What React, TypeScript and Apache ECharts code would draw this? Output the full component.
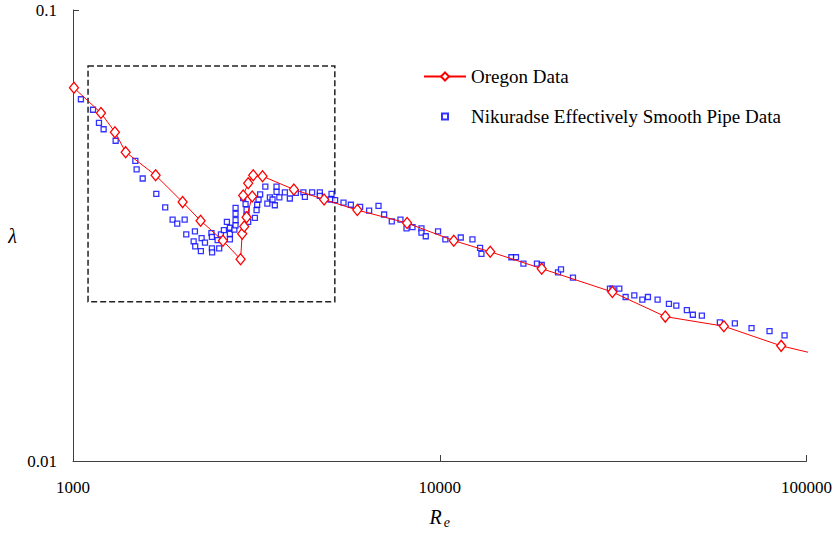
import React, { useEffect, useRef } from "react";
import * as echarts from "echarts";

// Oregon data (Reynolds number, friction factor), in drawing order
const oregonRe = [1006, 1192, 1301, 1392, 1680, 1990, 2228, 2563, 2864, 2893, 2930, 2974, 3081, 2911, 3004, 3100, 3287, 4001, 4838, 5960, 8146, 10920, 13730, 18970, 29560, 41210, 59530, 85310];
const oregonLambda = [0.0672, 0.0591, 0.0536, 0.0484, 0.0430, 0.0375, 0.0341, 0.0308, 0.0280, 0.0319, 0.0331, 0.0347, 0.0386, 0.0388, 0.0413, 0.0430, 0.0428, 0.0400, 0.0380, 0.0360, 0.0337, 0.0308, 0.0291, 0.0267, 0.0237, 0.0209, 0.0199, 0.0180];
// ends of the fitted red curve (no markers)
const curveStart = [969, 0.0703];
const curveEnd = [105100, 0.01729];

// Nikuradse effectively smooth pipe data
const nikRe = [1051, 1134, 1177, 1212, 1307, 1479, 1491, 1549, 1687, 1784, 1869, 1924, 2016, 2036, 2150, 2133, 2242, 2154, 2232, 2290, 2385, 2392, 2392, 2395, 2479, 2504, 2531, 2579, 2628, 2678, 2678, 2678, 2754, 2775, 2775, 2775, 2775, 2911, 2955, 2974, 2970, 3004, 3133, 3166, 3178, 3206, 3238, 3345, 3388, 3442, 3500, 3551, 3589, 3589, 3653, 3782, 3902, 4051, 4248, 4288, 4487, 4710, 4710, 5069, 5037, 5184, 5465, 5722, 6065, 6418, 6808, 7052, 7400, 7814, 8116, 8426, 8915, 8915, 9160, 9894, 10360, 11410, 12280, 12880, 12990, 15680, 16140, 16910, 18410, 18970, 21010, 21410, 23080, 29110, 29600, 30870, 32120, 33920, 35670, 36950, 39260, 42160, 44160, 47190, 48990, 51840, 58040, 63770, 70810, 79290, 87130];
const nikLambda = [0.0634, 0.0601, 0.0562, 0.0544, 0.0513, 0.0463, 0.0443, 0.0423, 0.0391, 0.0365, 0.0343, 0.0336, 0.0343, 0.0318, 0.0323, 0.0307, 0.0312, 0.0299, 0.0292, 0.0305, 0.0320, 0.0314, 0.0296, 0.0290, 0.0309, 0.0296, 0.0318, 0.0325, 0.0339, 0.0329, 0.0319, 0.0310, 0.0326, 0.0364, 0.0353, 0.0342, 0.0333, 0.0383, 0.0371, 0.0361, 0.0350, 0.0339, 0.0346, 0.0360, 0.0370, 0.0380, 0.0390, 0.0406, 0.0372, 0.0384, 0.0380, 0.0369, 0.0406, 0.0395, 0.0384, 0.0394, 0.0382, 0.0393, 0.0394, 0.0385, 0.0394, 0.0394, 0.0387, 0.0391, 0.0380, 0.0379, 0.0374, 0.0370, 0.0366, 0.0359, 0.0368, 0.0352, 0.0340, 0.0343, 0.0328, 0.0330, 0.0328, 0.0321, 0.0315, 0.0323, 0.0310, 0.0313, 0.0310, 0.0297, 0.0288, 0.0283, 0.0283, 0.0274, 0.0274, 0.0272, 0.0262, 0.0266, 0.0255, 0.0241, 0.0241, 0.0241, 0.0231, 0.0233, 0.0228, 0.0231, 0.0228, 0.0223, 0.0221, 0.0216, 0.0211, 0.0210, 0.0203, 0.0202, 0.0197, 0.0194, 0.0190];

// dashed highlight box corners (Re, lambda)
const boxCorner1 = [1099, 0.0751];
const boxCorner2 = [5175, 0.02256];

const xTickLabels = ["1000", "10000", "100000"];
const yTickLabels = ["0.01", "0.1"];

const seriesNames = ["Oregon Data", "Nikuradse Effectively Smooth Pipe Data"];

const FONT = "Liberation Serif";

export default function App() {
  const ref = useRef<HTMLDivElement>(null);

  useEffect(() => {
    if (!ref.current) return;
    const chart = echarts.init(ref.current, null, { renderer: "svg" });

    const oregonData: any[] = [
      { value: curveStart, symbol: "none" },
      ...oregonRe.map((r, i) => [r, oregonLambda[i]]),
      { value: curveEnd, symbol: "none" },
    ];
    const nikData = nikRe.map((r, i) => [r, nikLambda[i]]);

    const axisColor = "#404040";

    chart.setOption({
      animation: false,
      backgroundColor: "#fff",
      textStyle: { fontFamily: FONT },
      grid: { left: 73, right: 28, top: 10, bottom: 74 },
      legend: [
        {
          data: [seriesNames[0]],
          left: 423,
          top: 67,
          padding: 0,
          itemWidth: 42,
          itemHeight: 10,
          textStyle: { fontFamily: FONT, fontSize: 19, color: "#000" },
        },
        {
          data: [seriesNames[1]],
          left: 441,
          top: 107,
          padding: 0,
          itemWidth: 6,
          itemHeight: 6,
          textStyle: { fontFamily: FONT, fontSize: 19, color: "#000", padding: [0, 0, 0, 18] },
        },
      ],
      xAxis: {
        type: "log",
        logBase: 10,
        min: 1000,
        max: 100000,
        name: "{r|R}{s|e}",
        nameLocation: "middle",
        nameGap: 44,
        nameTextStyle: {
          rich: {
            r: { fontFamily: FONT, fontSize: 20, fontStyle: "italic", color: "#000" },
            s: { fontFamily: FONT, fontSize: 14, fontStyle: "italic", color: "#000", padding: [10, 0, 0, 2] },
          },
        },
        axisLine: { show: true, lineStyle: { color: axisColor, width: 1 } },
        axisTick: { show: true, inside: true, length: 6, lineStyle: { color: axisColor } },
        minorTick: { show: false },
        splitLine: { show: false },
        axisLabel: {
          color: "#000",
          fontFamily: FONT,
          fontSize: 17,
          margin: 18,
          formatter: (v: number) => xTickLabels[Math.round(Math.log10(v)) - 3] ?? "",
        },
      },
      yAxis: {
        type: "log",
        logBase: 10,
        min: 0.01,
        max: 0.1,
        name: "λ",
        nameLocation: "middle",
        nameRotate: 0,
        nameGap: 56,
        nameTextStyle: { fontFamily: FONT, fontSize: 20, fontStyle: "italic", color: "#000" },
        axisLine: { show: true, lineStyle: { color: axisColor, width: 1 } },
        axisTick: { show: true, inside: true, length: 6, lineStyle: { color: axisColor } },
        minorTick: { show: false },
        splitLine: { show: false },
        axisLabel: {
          color: "#000",
          fontFamily: FONT,
          fontSize: 17,
          margin: 16,
          formatter: (v: number) => yTickLabels[Math.round(Math.log10(v)) + 2] ?? "",
        },
      },
      series: [
        {
          name: seriesNames[0],
          type: "line",
          data: oregonData,
          clip: false,
          symbol: "diamond",
          symbolSize: [9, 11],
          showAllSymbol: true,
          lineStyle: { color: "#ff0000", width: 1 },
          itemStyle: { color: "#ffffff", borderColor: "#ff0000", borderWidth: 1.3 },
          z: 3,
        },
        {
          name: seriesNames[1],
          type: "scatter",
          data: nikData,
          symbol: "rect",
          symbolSize: 5,
          itemStyle: { color: "#ffffff", borderColor: "#0000ff", borderWidth: 1.3 },
          z: 2,
          markArea: {
            silent: true,
            itemStyle: {
              color: "rgba(0,0,0,0)",
              borderColor: "#222",
              borderWidth: 1.5,
              borderType: [6, 3],
            },
            data: [[{ coord: boxCorner1 }, { coord: boxCorner2 }]],
          },
        },
      ],
    });

    return () => chart.dispose();
  }, []);

  return (
    <div
      ref={ref}
      style={{ position: "fixed", left: 0, top: 0, width: 835, height: 535 }}
    />
  );
}
